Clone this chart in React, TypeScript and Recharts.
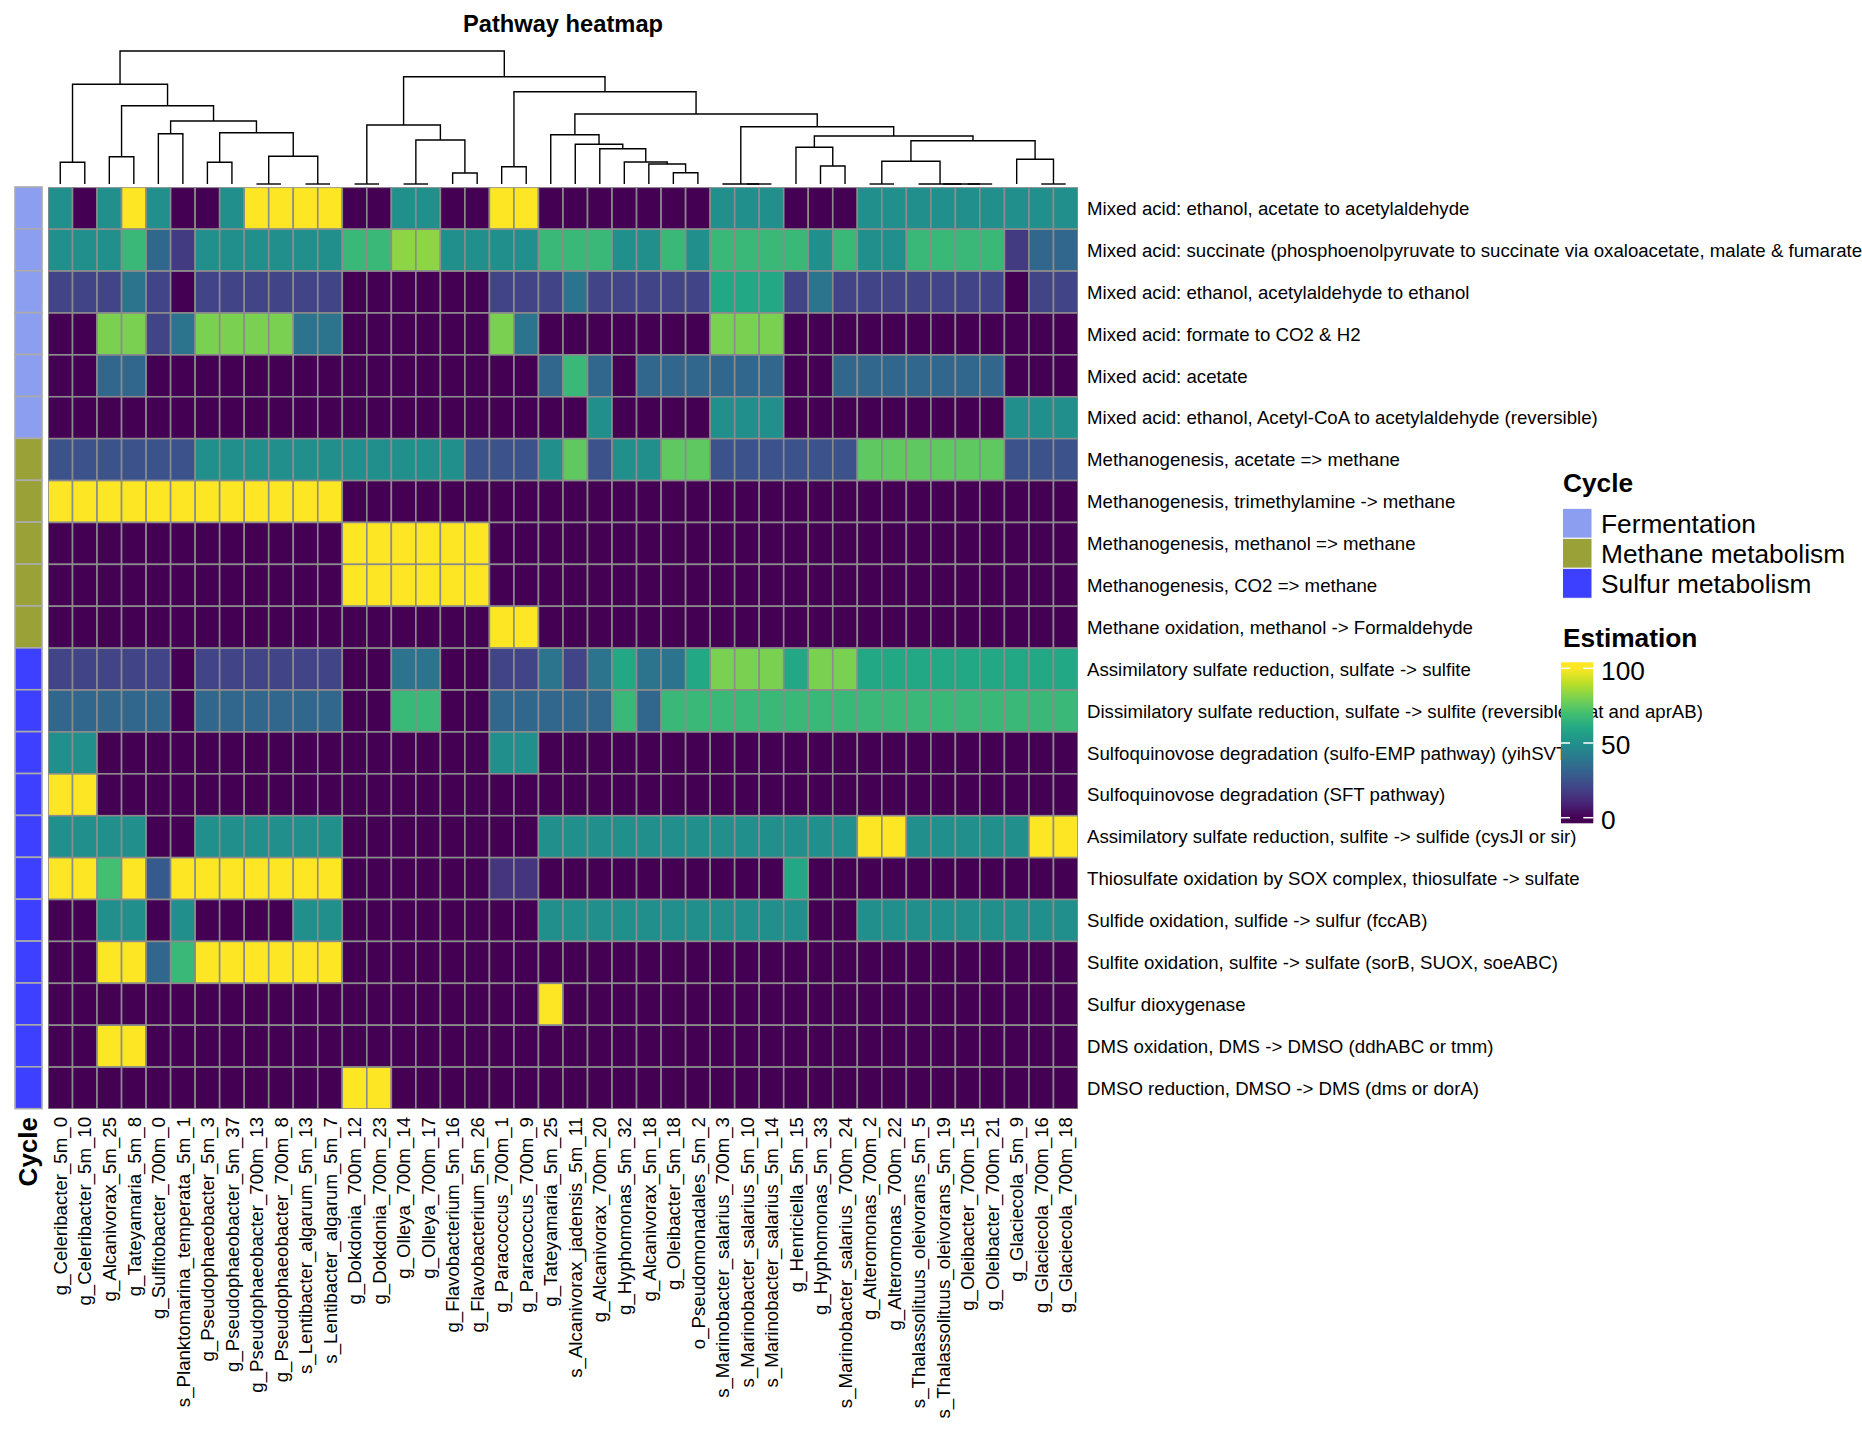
import React from 'react';
import { ScatterChart, Scatter, XAxis, YAxis } from 'recharts';

const FONT = '"Liberation Sans", Arial, Helvetica, sans-serif';

// ---------------- data ----------------
const columnLabels = [
  'g_Celeribacter_5m_0', 'g_Celeribacter_5m_10', 'g_Alcanivorax_5m_25', 'g_Tateyamaria_5m_8',
  'g_Sulfitobacter_700m_0', 's_Planktomarina_temperata_5m_1', 'g_Pseudophaeobacter_5m_3',
  'g_Pseudophaeobacter_5m_37', 'g_Pseudophaeobacter_700m_13', 'g_Pseudophaeobacter_700m_8',
  's_Lentibacter_algarum_5m_13', 's_Lentibacter_algarum_5m_7', 'g_Dokdonia_700m_12',
  'g_Dokdonia_700m_23', 'g_Olleya_700m_14', 'g_Olleya_700m_17', 'g_Flavobacterium_5m_16',
  'g_Flavobacterium_5m_26', 'g_Paracoccus_700m_1', 'g_Paracoccus_700m_9', 'g_Tateyamaria_5m_25',
  's_Alcanivorax_jadensis_5m_11', 'g_Alcanivorax_700m_20', 'g_Hyphomonas_5m_32',
  'g_Alcanivorax_5m_18', 'g_Oleibacter_5m_18', 'o_Pseudomonadales_5m_2',
  's_Marinobacter_salarius_700m_3', 's_Marinobacter_salarius_5m_10', 's_Marinobacter_salarius_5m_14',
  'g_Henriciella_5m_15', 'g_Hyphomonas_5m_33', 's_Marinobacter_salarius_700m_24',
  'g_Alteromonas_700m_2', 'g_Alteromonas_700m_22', 's_Thalassolituus_oleivorans_5m_5',
  's_Thalassolituus_oleivorans_5m_19', 'g_Oleibacter_700m_15', 'g_Oleibacter_700m_21',
  'g_Glaciecola_5m_9', 'g_Glaciecola_700m_16', 'g_Glaciecola_700m_18',
];

const pathwayLabels = [
  'Mixed acid: ethanol, acetate to acetylaldehyde',
  'Mixed acid: succinate (phosphoenolpyruvate to succinate via oxaloacetate, malate & fumarate)',
  'Mixed acid: ethanol, acetylaldehyde to ethanol',
  'Mixed acid: formate to CO2 & H2',
  'Mixed acid: acetate',
  'Mixed acid: ethanol, Acetyl-CoA to acetylaldehyde (reversible)',
  'Methanogenesis, acetate => methane',
  'Methanogenesis, trimethylamine -> methane',
  'Methanogenesis, methanol => methane',
  'Methanogenesis, CO2 => methane',
  'Methane oxidation, methanol -> Formaldehyde',
  'Assimilatory sulfate reduction, sulfate -> sulfite',
  'Dissimilatory sulfate reduction, sulfate -> sulfite (reversible, sat and aprAB)',
  'Sulfoquinovose degradation (sulfo-EMP pathway) (yihSVT)',
  'Sulfoquinovose degradation (SFT pathway)',
  'Assimilatory sulfate reduction, sulfite -> sulfide (cysJI or sir)',
  'Thiosulfate oxidation by SOX complex, thiosulfate -> sulfate',
  'Sulfide oxidation, sulfide -> sulfur (fccAB)',
  'Sulfite oxidation, sulfite -> sulfate (sorB, SUOX, soeABC)',
  'Sulfur dioxygenase',
  'DMS oxidation, DMS -> DMSO (ddhABC or tmm)',
  'DMSO reduction, DMSO -> DMS (dms or dorA)',
];

const cycleNames = ['Fermentation', 'Methane metabolism', 'Sulfur metabolism'];
const cycleColors = ['#8C9EF0', '#9AA237', '#3D40FF'];
// cycle index of each pathway row
const pathwayCycle = [0, 0, 0, 0, 0, 0, 1, 1, 1, 1, 1, 2, 2, 2, 2, 2, 2, 2, 2, 2, 2, 2];

// Estimation (0-100), one array per pathway, 42 columns each
const est00 = [50, 0, 50, 100, 50, 0, 0, 50, 100, 100, 100, 100, 0, 0, 50, 50, 0, 0, 100, 100, 0, 0, 0, 0, 0, 0, 0, 50, 50, 50, 0, 0, 0, 50, 50, 50, 50, 50, 50, 50, 50, 50];
const est01 = [50, 50, 50, 67, 33, 17, 50, 50, 50, 50, 50, 50, 67, 67, 83, 83, 50, 50, 50, 50, 67, 67, 67, 50, 50, 67, 50, 67, 67, 67, 67, 50, 67, 50, 50, 67, 67, 67, 67, 17, 33, 33];
const est02 = [20, 20, 20, 38, 20, 0, 20, 20, 20, 20, 20, 20, 0, 0, 0, 0, 0, 0, 20, 20, 20, 38, 20, 20, 20, 20, 20, 60, 60, 60, 20, 38, 20, 20, 20, 20, 20, 20, 20, 0, 20, 20];
const est03 = [0, 0, 80, 80, 20, 38, 80, 80, 80, 80, 38, 38, 0, 0, 0, 0, 0, 0, 80, 38, 0, 0, 0, 0, 0, 0, 0, 80, 80, 80, 0, 0, 0, 0, 0, 0, 0, 0, 0, 0, 0, 0];
const est04 = [0, 0, 33, 33, 0, 0, 0, 0, 0, 0, 0, 0, 0, 0, 0, 0, 0, 0, 0, 0, 33, 67, 33, 0, 33, 33, 33, 33, 33, 33, 0, 0, 33, 33, 33, 33, 33, 33, 33, 0, 0, 0];
const est05 = [0, 0, 0, 0, 0, 0, 0, 0, 0, 0, 0, 0, 0, 0, 0, 0, 0, 0, 0, 0, 0, 0, 50, 0, 0, 0, 0, 50, 50, 50, 0, 0, 0, 0, 0, 0, 0, 0, 0, 50, 50, 50];
const est06 = [25, 25, 25, 25, 25, 25, 50, 50, 50, 50, 50, 50, 50, 50, 50, 50, 50, 25, 25, 25, 50, 75, 25, 50, 50, 75, 75, 25, 25, 25, 25, 25, 25, 75, 75, 75, 75, 75, 75, 25, 25, 25];
const est07 = [100, 100, 100, 100, 100, 100, 100, 100, 100, 100, 100, 100, 0, 0, 0, 0, 0, 0, 0, 0, 0, 0, 0, 0, 0, 0, 0, 0, 0, 0, 0, 0, 0, 0, 0, 0, 0, 0, 0, 0, 0, 0];
const est08 = [0, 0, 0, 0, 0, 0, 0, 0, 0, 0, 0, 0, 100, 100, 100, 100, 100, 100, 0, 0, 0, 0, 0, 0, 0, 0, 0, 0, 0, 0, 0, 0, 0, 0, 0, 0, 0, 0, 0, 0, 0, 0];
const est09 = [0, 0, 0, 0, 0, 0, 0, 0, 0, 0, 0, 0, 100, 100, 100, 100, 100, 100, 0, 0, 0, 0, 0, 0, 0, 0, 0, 0, 0, 0, 0, 0, 0, 0, 0, 0, 0, 0, 0, 0, 0, 0];
const est10 = [0, 0, 0, 0, 0, 0, 0, 0, 0, 0, 0, 0, 0, 0, 0, 0, 0, 0, 100, 100, 0, 0, 0, 0, 0, 0, 0, 0, 0, 0, 0, 0, 0, 0, 0, 0, 0, 0, 0, 0, 0, 0];
const est11 = [20, 20, 20, 20, 20, 0, 20, 20, 20, 20, 20, 20, 0, 0, 38, 38, 0, 0, 20, 20, 38, 20, 38, 60, 38, 38, 60, 80, 80, 80, 60, 80, 80, 60, 60, 60, 60, 60, 60, 60, 60, 60];
const est12 = [33, 33, 33, 33, 33, 0, 33, 33, 33, 33, 33, 33, 0, 0, 67, 67, 0, 0, 33, 33, 33, 33, 33, 67, 33, 67, 67, 67, 67, 67, 67, 67, 67, 67, 67, 67, 67, 67, 67, 67, 67, 67];
const est13 = [50, 50, 0, 0, 0, 0, 0, 0, 0, 0, 0, 0, 0, 0, 0, 0, 0, 0, 50, 50, 0, 0, 0, 0, 0, 0, 0, 0, 0, 0, 0, 0, 0, 0, 0, 0, 0, 0, 0, 0, 0, 0];
const est14 = [100, 100, 0, 0, 0, 0, 0, 0, 0, 0, 0, 0, 0, 0, 0, 0, 0, 0, 0, 0, 0, 0, 0, 0, 0, 0, 0, 0, 0, 0, 0, 0, 0, 0, 0, 0, 0, 0, 0, 0, 0, 0];
const est15 = [50, 50, 50, 50, 0, 0, 50, 50, 50, 50, 50, 50, 0, 0, 0, 0, 0, 0, 0, 0, 50, 50, 50, 50, 50, 50, 50, 50, 50, 50, 50, 50, 50, 100, 100, 50, 50, 50, 50, 50, 100, 100];
const est16 = [100, 100, 70, 100, 28, 100, 100, 100, 100, 100, 100, 100, 0, 0, 0, 0, 0, 0, 15, 15, 0, 0, 0, 0, 0, 0, 0, 0, 0, 0, 60, 0, 0, 0, 0, 0, 0, 0, 0, 0, 0, 0];
const est17 = [0, 0, 50, 50, 0, 50, 0, 0, 0, 0, 50, 50, 0, 0, 0, 0, 0, 0, 0, 0, 50, 50, 50, 50, 50, 50, 50, 50, 50, 50, 50, 0, 0, 50, 50, 50, 50, 50, 50, 50, 50, 50];
const est18 = [0, 0, 100, 100, 33, 67, 100, 100, 100, 100, 100, 100, 0, 0, 0, 0, 0, 0, 0, 0, 0, 0, 0, 0, 0, 0, 0, 0, 0, 0, 0, 0, 0, 0, 0, 0, 0, 0, 0, 0, 0, 0];
const est19 = [0, 0, 0, 0, 0, 0, 0, 0, 0, 0, 0, 0, 0, 0, 0, 0, 0, 0, 0, 0, 100, 0, 0, 0, 0, 0, 0, 0, 0, 0, 0, 0, 0, 0, 0, 0, 0, 0, 0, 0, 0, 0];
const est20 = [0, 0, 100, 100, 0, 0, 0, 0, 0, 0, 0, 0, 0, 0, 0, 0, 0, 0, 0, 0, 0, 0, 0, 0, 0, 0, 0, 0, 0, 0, 0, 0, 0, 0, 0, 0, 0, 0, 0, 0, 0, 0];
const est21 = [0, 0, 0, 0, 0, 0, 0, 0, 0, 0, 0, 0, 100, 100, 0, 0, 0, 0, 0, 0, 0, 0, 0, 0, 0, 0, 0, 0, 0, 0, 0, 0, 0, 0, 0, 0, 0, 0, 0, 0, 0, 0];

const estimation = [est00, est01, est02, est03, est04, est05, est06, est07, est08, est09, est10,
  est11, est12, est13, est14, est15, est16, est17, est18, est19, est20, est21];

const legendTicks = [0, 50, 100];

// column dendrogram, hclust-style merges: negative = leaf (1-based), positive = earlier merge (1-based); third = height
const dendroMerges: [number, number, number][] = [
  [-1, -2, 21.7], [-3, -4, 27.3], [-5, -6, 50.3], [-7, -8, 21.7], [-9, -10, 0], [-11, -12, 0],
  [5, 6, 27.7], [4, 7, 51.3], [3, 8, 63], [2, 9, 78.3], [1, 10, 99.7],
  [-13, -14, 0], [-15, -16, 0], [-17, -18, 11], [13, 14, 44], [12, 15, 59],
  [-19, -20, 17.3], [-26, -27, 11.3], [-25, 18, 20], [-24, 19, 22], [-23, 20, 35.3], [-22, 21, 39.7], [-21, 22, 49.3],
  [-29, -30, 0], [-28, 24, 0], [-32, -33, 18], [-31, 26, 36.7],
  [-34, -35, 0], [-38, -39, 0], [-37, 29, 0], [-36, 30, 0], [28, 31, 22.7],
  [-41, -42, 0], [-40, 33, 24.7], [32, 34, 43.3], [27, 35, 48], [25, 36, 57.3],
  [23, 37, 70], [17, 38, 92.3], [16, 39, 107.3], [11, 40, 133],
];

// ---------------- colour ----------------
const VIRIDIS = ['#440154', '#482576', '#414487', '#35608D', '#2A788E', '#21908C', '#22A884', '#43BF71', '#7AD151', '#BBDF27', '#FDE725'];
function hexRgb(h: string) {
  return [parseInt(h.slice(1, 3), 16), parseInt(h.slice(3, 5), 16), parseInt(h.slice(5, 7), 16)];
}
function viridis(v: number) {
  const t = Math.max(0, Math.min(1, v / 100)) * 10;
  const i = Math.min(9, Math.floor(t));
  const f = t - i;
  const a = hexRgb(VIRIDIS[i]);
  const b = hexRgb(VIRIDIS[i + 1]);
  const c = a.map((x, k) => Math.round(x + (b[k] - x) * f));
  return `rgb(${c[0]},${c[1]},${c[2]})`;
}

// ---------------- layout ----------------
const PAGE_W = 1862;
const PAGE_H = 1440;
const HM_L = 48;
const HM_R = 1078;
const HM_T = 187.3;
const HM_B = 1109;
const nCol = columnLabels.length;
const nRow = pathwayLabels.length;
const cellW = (HM_R - HM_L) / nCol;
const cellH = (HM_B - HM_T) / nRow;
const ANN_L = 14.5;
const ANN_W = 27;
const DEN_T = 51;
const DEN_B = 184;
const PAD = 10;
const LABEL_FS = 18.65;
const LEG_FS = 26.3;

const heatCells = estimation.flatMap((row, r) => row.map((v, c) => ({ x: c, y: r, v })));
const annCells = pathwayCycle.map((k, r) => ({ x: 0, y: r, k }));
const colTicks = columnLabels.map((_, i) => i);
const rowTicks = pathwayLabels.map((_, i) => i);

// dendrogram links
const nodeX: number[] = [];
const nodeH: number[] = [];
const dendroLinks = dendroMerges.map(([a, b, h], k) => {
  const pa = a < 0 ? { x: -a - 1, h: 0 } : { x: nodeX[a - 1], h: nodeH[a - 1] };
  const pb = b < 0 ? { x: -b - 1, h: 0 } : { x: nodeX[b - 1], h: nodeH[b - 1] };
  nodeX[k] = (pa.x + pb.x) / 2;
  nodeH[k] = h;
  return [
    { x: pa.x, y: pa.h },
    { x: pa.x, y: h },
    { x: pb.x, y: h },
    { x: pb.x, y: pb.h },
  ];
});
const dendroMax = Math.max(...dendroMerges.map((m) => m[2]));

// ---------------- renderers ----------------
const HeatCell = (props: any) => {
  const { cx, cy, payload } = props;
  return (
    <rect x={cx - cellW / 2} y={cy - cellH / 2} width={cellW} height={cellH}
      fill={viridis(payload.v)} stroke="#8c8c8c" strokeWidth={1.6} />
  );
};

const AnnCell = (props: any) => {
  const { cx, cy, payload } = props;
  return (
    <rect x={cx - ANN_W / 2} y={cy - cellH / 2} width={ANN_W} height={cellH}
      fill={cycleColors[payload.k]} stroke="#ababab" strokeWidth={1.6} />
  );
};

const ColTick = (props: any) => {
  const { x, y, payload } = props;
  const yy = y + 8;
  return (
    <text x={x} y={yy} transform={`rotate(-90 ${x} ${yy})`} textAnchor="end" dy="0.36em"
      fontSize={LABEL_FS} fontFamily={FONT} fill="#000">
      {columnLabels[payload.value]}
    </text>
  );
};

const RowTick = (props: any) => {
  const { x, y, payload } = props;
  return (
    <text x={x + 9} y={y} dy="0.36em" textAnchor="start" fontSize={LABEL_FS} fontFamily={FONT} fill="#000">
      {pathwayLabels[payload.value]}
    </text>
  );
};

const NoShape = () => <g />;

// colour bar geometry
const CB_X = 1561;
const CB_W = 32.3;
const CB_T = 662.3;
const CB_B = 823.3;
const CB_Y0 = 817.7;
const CB_Y100 = 668.3;
const cbY = (v: number) => CB_Y0 + (CB_Y100 - CB_Y0) * (v / 100);
const gradStops = VIRIDIS.map((c, i) => ({ off: (CB_B - cbY(i * 10)) / (CB_B - CB_T), c }));

export default function App() {
  return (
    <div style={{ position: 'absolute', left: 0, top: 0, width: PAGE_W, height: PAGE_H, background: '#fff', overflow: 'hidden', fontFamily: FONT }}>
      {/* heatmap body with row & column labels */}
      <div style={{ position: 'absolute', left: 0, top: 0 }}>
        <ScatterChart width={PAGE_W} height={PAGE_H} margin={{ top: HM_T, left: HM_L, right: 0, bottom: 0 }}>
          <XAxis type="number" dataKey="x" domain={[-0.5, nCol - 0.5]} ticks={colTicks} interval={0}
            height={PAGE_H - HM_B} axisLine={false} tickLine={false} tickSize={0} tickMargin={0}
            tick={ColTick} allowDataOverflow />
          <YAxis type="number" dataKey="y" orientation="right" reversed domain={[-0.5, nRow - 0.5]}
            ticks={rowTicks} interval={0} width={PAGE_W - HM_R} axisLine={false} tickLine={false}
            tickSize={0} tickMargin={0} tick={RowTick} allowDataOverflow />
          <Scatter data={heatCells} shape={HeatCell} isAnimationActive={false} />
        </ScatterChart>
      </div>

      {/* row annotation (Cycle) */}
      <div style={{ position: 'absolute', left: ANN_L - PAD, top: HM_T - PAD }}>
        <ScatterChart width={ANN_W + 2 * PAD} height={HM_B - HM_T + 2 * PAD}
          margin={{ top: PAD, left: PAD, right: PAD, bottom: PAD }}>
          <XAxis type="number" dataKey="x" domain={[-0.5, 0.5]} hide />
          <YAxis type="number" dataKey="y" reversed domain={[-0.5, nRow - 0.5]} hide />
          <Scatter data={annCells} shape={AnnCell} isAnimationActive={false} />
        </ScatterChart>
      </div>

      {/* column dendrogram */}
      <div style={{ position: 'absolute', left: HM_L - PAD, top: DEN_T - PAD }}>
        <ScatterChart width={HM_R - HM_L + 2 * PAD} height={DEN_B - DEN_T + 2 * PAD}
          margin={{ top: PAD, left: PAD, right: PAD, bottom: PAD }}>
          <XAxis type="number" dataKey="x" domain={[-0.5, nCol - 0.5]} hide />
          <YAxis type="number" dataKey="y" domain={[0, dendroMax]} hide />
          {dendroLinks.map((pts, i) => (
            <Scatter key={i} data={pts} shape={NoShape} line={{ stroke: '#000', strokeWidth: 1.4 }}
              lineType="joint" isAnimationActive={false} />
          ))}
        </ScatterChart>
      </div>

      {/* title, annotation name and legends */}
      <svg width={PAGE_W} height={PAGE_H} style={{ position: 'absolute', left: 0, top: 0, pointerEvents: 'none' }}>
        <defs>
          <linearGradient id="estGrad" x1="0" y1="1" x2="0" y2="0">
            {gradStops.map((s, i) => (
              <stop key={i} offset={Math.max(0, Math.min(1, s.off))} stopColor={s.c} />
            ))}
          </linearGradient>
        </defs>
        <text x={(HM_L + HM_R) / 2} y={32} textAnchor="middle" fontSize={23.7} fontWeight="bold" fontFamily={FONT}>
          Pathway heatmap
        </text>
        <text x={ANN_L + ANN_W / 2} y={1117} transform={`rotate(-90 ${ANN_L + ANN_W / 2} 1117)`}
          textAnchor="end" dy="0.36em" fontSize={26} fontWeight="bold" fontFamily={FONT}>
          Cycle
        </text>

        {/* Cycle legend */}
        <text x={1563} y={492} fontSize={LEG_FS} fontWeight="bold" fontFamily={FONT}>Cycle</text>
        {cycleNames.map((name, i) => (
          <g key={name}>
            <rect x={1562.5} y={508.3 + 30 * i} width={29.5} height={30} fill={cycleColors[i]} stroke="#fff" strokeWidth={1} />
            <text x={1601} y={508.3 + 30 * i + 15} dy="0.36em" fontSize={LEG_FS} fontFamily={FONT}>{name}</text>
          </g>
        ))}

        {/* Estimation legend */}
        <text x={1563} y={647} fontSize={LEG_FS} fontWeight="bold" fontFamily={FONT}>Estimation</text>
        <rect x={CB_X} y={CB_T} width={CB_W} height={CB_B - CB_T} fill="url(#estGrad)" />
        {legendTicks.map((t) => (
          <g key={t}>
            <line x1={CB_X} x2={CB_X + 9} y1={cbY(t)} y2={cbY(t)} stroke="#fff" strokeWidth={1.5} />
            <line x1={CB_X + CB_W - 10} x2={CB_X + CB_W} y1={cbY(t)} y2={cbY(t)} stroke="#fff" strokeWidth={1.5} />
            <text x={1601} y={cbY(t) + 11.4} fontSize={LEG_FS} fontFamily={FONT}>{t}</text>
          </g>
        ))}
      </svg>
    </div>
  );
}
